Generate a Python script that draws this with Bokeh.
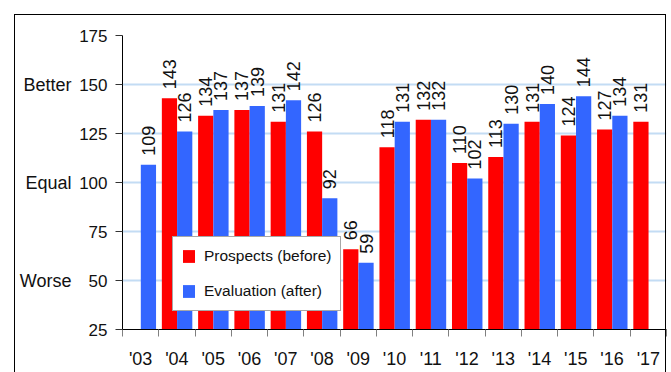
import math
from bokeh.plotting import figure
from bokeh.models import (Range1d, FixedTicker, ColumnDataSource, Legend, LegendItem,
                          LinearAxis, InlineStyleSheet)
from bokeh.core.properties import value
from bokeh.embed import file_html
from bokeh.resources import INLINE

# Survey years and the two balance scores (None = no survey that year)
years = ["'03", "'04", "'05", "'06", "'07", "'08", "'09", "'10",
         "'11", "'12", "'13", "'14", "'15", "'16", "'17"]
prospects = [None, 143, 134, 137, 131, 126, 66, 118, 132, 110, 113, 131, 124, 127, 131]
evaluation = [109, 126, 137, 139, 142, 92, 59, 131, 132, 102, 130, 140, 144, 134, None]
y_ticks = [25, 50, 75, 100, 125, 150, 175]
verdicts = ["Better", "Equal", "Worse"]
verdict_levels = [150, 100, 50]

FONT = "Liberation Sans"
RED = "#FF0000"
BLUE = "#3366FF"
BAR_W = 0.42


def series_source(vals, offset):
    xs, tops, texts = [], [], []
    for i, v in enumerate(vals):
        if v is None:
            continue
        xs.append(i + offset)
        tops.append(v)
        texts.append(str(v))
    return ColumnDataSource(dict(x=xs, top=tops, label=texts))


src_p = series_source(prospects, 0.295)
src_e = series_source(evaluation, 0.715)

# thin chart frame around the whole graphic (open at the bottom)
frame_css = InlineStyleSheet(css="""
:host { position: relative; }
:host::after {
  content: ""; position: absolute; left: 14px; top: 14px; right: 5px; bottom: 0px;
  border: 1.5px solid #000; border-bottom: none; pointer-events: none;
}
""")

p = figure(width=671, height=372, output_backend="svg", toolbar_location=None,
           x_range=Range1d(0, len(years)), y_range=Range1d(25, 175),
           min_border_left=122, min_border_right=5, min_border_top=35, min_border_bottom=43,
           stylesheets=[frame_css])
p.outline_line_color = None
p.background_fill_color = "white"
p.border_fill_color = "white"

# grid
p.xgrid.visible = False
p.ygrid.ticker = FixedTicker(ticks=y_ticks)
p.ygrid.grid_line_color = "#C3DCF4"
p.ygrid.grid_line_width = 2

# bars
r_p = p.vbar(x="x", top="top", bottom=25, width=BAR_W, source=src_p,
             fill_color=RED, line_color=None)
r_e = p.vbar(x="x", top="top", bottom=25, width=BAR_W, source=src_e,
             fill_color=BLUE, line_color=None)

# value labels, rotated, above each bar
for src in (src_p, src_e):
    p.text(x="x", y="top", text="label", source=src, angle=math.pi / 2,
           text_align="left", text_baseline="middle", y_offset=-9,
           text_font=value(FONT), text_font_size="18px", text_color="#111111")

# y axis
ya = p.yaxis[0]
ya.ticker = FixedTicker(ticks=y_ticks)
ya.axis_line_color = "black"
ya.major_tick_line_color = "#333333"
ya.major_tick_out = 7
ya.major_tick_in = 0
ya.minor_tick_line_color = None
ya.major_label_standoff = 8
ya.major_label_text_font = FONT
ya.major_label_text_font_size = "17px"
ya.major_label_text_color = "#111111"

# verbal scale, as a second (line-less) axis left of the numeric one
va = LinearAxis(ticker=FixedTicker(ticks=verdict_levels),
                major_label_overrides={lvl: txt for lvl, txt in zip(verdict_levels, verdicts)},
                axis_line_color=None, major_tick_line_color=None, minor_tick_line_color=None,
                major_tick_out=0, major_tick_in=0, major_label_standoff=5,
                major_label_text_font=FONT, major_label_text_font_size="18px",
                major_label_text_color="#111111")
p.add_layout(va, "left")

# x axis: labels centred on categories, ticks on category boundaries
xa = p.xaxis[0]
centers = [i + 0.5 for i in range(len(years))]
xa.ticker = FixedTicker(ticks=centers, minor_ticks=list(range(len(years) + 1)))
xa.major_label_overrides = {c: y for c, y in zip(centers, years)}
xa.axis_line_color = "black"
xa.major_tick_line_color = None
xa.major_tick_out = 0
xa.minor_tick_line_color = "#808080"
xa.minor_tick_out = 7
xa.minor_tick_in = 0
xa.major_label_standoff = 12
xa.major_label_text_font = FONT
xa.major_label_text_font_size = "18px"
xa.major_label_text_color = "#111111"

# legend
legend = Legend(items=[LegendItem(label="Prospects (before)", renderers=[r_p]),
                       LegendItem(label="Evaluation (after)", renderers=[r_e])],
                location=(50, 18), orientation="vertical",
                glyph_width=15, glyph_height=16, label_standoff=8,
                label_height=22, spacing=13, padding=8, margin=0,
                label_text_font=FONT, label_text_font_size="15.5px",
                label_text_color="#111111", label_text_baseline="middle",
                border_line_color="#505050", border_line_width=1,
                background_fill_color="white", background_fill_alpha=1)
p.add_layout(legend)

open("out.html", "w").write(file_html(p, INLINE))
